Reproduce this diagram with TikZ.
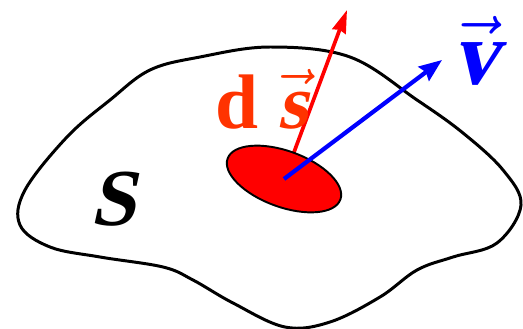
\RequirePackage{fix-cm}
\documentclass[tikz,border=0pt]{standalone}
\usepackage{amsmath}
\usepackage{fontspec}
\setmainfont{Liberation Serif}
\newfontfamily\slantserif[FakeSlant=0.22]{Liberation Serif}
\usetikzlibrary{arrows.meta,shapes.geometric}
\definecolor{dsred}{RGB}{255,51,0}
\newcommand{\arrowon}[1]{\ooalign{#1\cr
  \hidewidth$\vec{\phantom{\mbox{#1}}}$\hidewidth\cr}}

\begin{document}
\begin{tikzpicture}[x=0.02cm, y=-0.02cm,
  rim/.style={draw, line width=1.7pt, line join=round},
  patch/.style={ellipse, draw, fill=red, line width=1.1pt, inner sep=0pt,
    minimum width=2.4cm, minimum height=1.12cm},
  nvec/.style={draw=red, line width=2.1pt,
    -{Stealth[length=13pt, width=8pt, inset=1pt]}},
  vvec/.style={draw=blue, line width=2.4pt,
    -{Stealth[length=13pt, width=10pt, inset=1.5pt]}},
  lbl/.style={inner sep=0pt, anchor=base west}]
\useasboundingbox (0,0) rectangle (523,328);
% the surface S
\draw[rim] plot[smooth cycle, tension=0.6] coordinates {
  (270,47) (350,57) (417,100) (463,133) (503,170) (521,205)
  (497,243) (453,257) (417,270) (380,297) (330,322) (285,327)
  (233,303) (193,280) (163,267) (100,257) (50,247) (20,225)
  (25,190) (67,137) (110,100) (150,70) (200,57)};
\coordinate (c) at (284,179);
\coordinate (ntip) at (347,10);
\coordinate (vtip) at (442,60);
\draw[nvec] (c) -- (ntip);
\node[patch, rotate=-20] (ds) at (c) {};
\draw[vvec] (ds.center) -- (vtip);
% labels
\node[lbl, font=\fontsize{44}{44}\selectfont, text=dsred] (dslabel)
  at (215,128) {\textbf{d} \arrowon{\slantserif\bfseries s}};
\node[lbl, font=\fontsize{46}{46}\selectfont] (slabel)
  at (90,225) {\slantserif\bfseries S};
\node[lbl, font=\fontsize{52}{52}\selectfont, text=blue] (vlabel)
  at (452,84) {\arrowon{\slantserif\bfseries v}};
\end{tikzpicture}
\end{document}
